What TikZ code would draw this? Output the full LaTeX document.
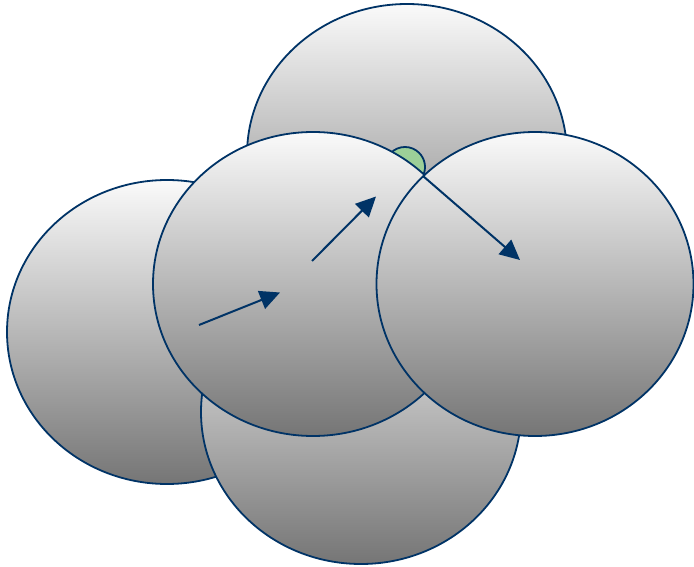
\documentclass[tikz,border=0pt]{standalone}
\usetikzlibrary{arrows.meta}
\definecolor{edgeblue}{RGB}{0,51,102}
\definecolor{anglegreen}{RGB}{156,207,152}
\begin{document}
\begin{tikzpicture}[x=1pt,y=-1pt,
  ball/.style={draw=edgeblue,line width=1.8pt,top color=white!98!black,bottom color=black!54},
  vec/.style={draw=edgeblue,line width=2pt,-{Triangle[length=20pt,width=19pt]}},
  anglemark/.style={draw=edgeblue,line width=1.8pt,fill=anglegreen}]
\useasboundingbox (0,0) rectangle (694,567);
% top ball
\draw[ball] (407,155) ellipse [x radius=160pt, y radius=151pt];
% angle mark
\draw[anglemark,shift={(405,167)}] (135:20pt) arc[start angle=135,end angle=-21,radius=20pt] -- cycle;
% left ball
\draw[ball] (167,332) ellipse [x radius=160pt, y radius=152pt];
% bottom ball
\draw[ball] (361,412) ellipse [x radius=160pt, y radius=152pt];
% middle ball
\draw[ball] (313,284) ellipse [x radius=160pt, y radius=152pt];
% right ball
\draw[ball] (535,284) ellipse [x radius=158.5pt, y radius=152pt];
% vectors
\coordinate (a1s) at (199,325);
\coordinate (a1e) at (280,292.5);
\coordinate (a2s) at (312,261);
\coordinate (a2e) at (376,196.5);
\coordinate (vtx) at (423,176);
\coordinate (a3e) at (520,260);
\draw[vec] (a1s) -- (a1e);
\draw[vec] (a2s) -- (a2e);
\draw[vec] (vtx) -- (a3e);
\end{tikzpicture}
\end{document}
